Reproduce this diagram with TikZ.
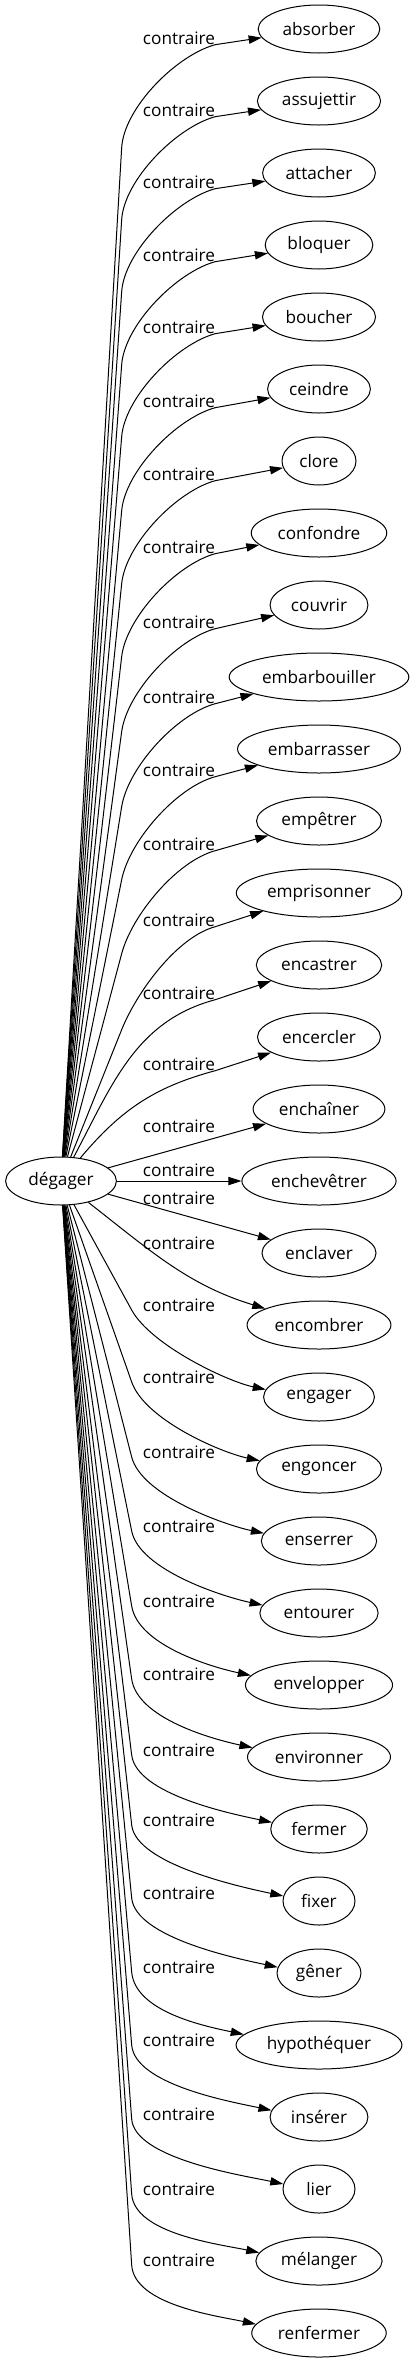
\documentclass[tikz,border=0pt]{standalone}
\usepackage{fontspec}
\setmainfont{Open Sans}
\usetikzlibrary{shapes.geometric,arrows.meta,calc}

\tikzset{
  mot/.style={draw, ellipse, line width=0.75pt, inner xsep=4.9pt, inner ysep=0pt,
    minimum width=54pt, minimum height=36pt},
  rel/.style={inner sep=0pt},
  fleche/.style={line width=0.75pt, -{Triangle[length=9.75pt,width=6.2pt]}},
}

\begin{document}
\begin{tikzpicture}[x=0.75pt, y=0.75pt, font=\fontsize{12.9}{15}\selectfont]
    \useasboundingbox (0,0) rectangle (412,-2363);
    \node (deg) at (61,-1181) [mot] {dégager};
    % les contraires, un par ligne
    \foreach \i/\mot/\ly in {0/absorber/38, 1/assujettir/110, 2/attacher/182,
        3/bloquer/255, 4/boucher/327, 5/ceindre/401, 6/clore/474,
        7/confondre/547, 8/couvrir/622, 9/embarbouiller/697,
        10/embarrasser/770, 11/empêtrer/844, 12/emprisonner/920,
        13/encastrer/993, 14/encercler/1064, 15/enchaîner/1126,
        16/enchevêtrer/1170, 17/enclaver/1198, 18/encombrer/1243,
        19/engager/1305, 20/engoncer/1377, 21/enserrer/1452,
        22/entourer/1526, 23/envelopper/1601, 24/environner/1674,
        25/fermer/1750, 26/fixer/1820, 27/gêner/1893, 28/hypothéquer/1967,
        29/insérer/2040, 30/lier/2114, 31/mélanger/2189, 32/renfermer/2260} {
        \node (m\i) at (319,{-29-72*\i}) [mot] {\mot};
        \node (c\i) at (179,-\ly) [rel] {contraire};
    }
    % points de courbure
    \foreach \i in {0,...,12}
        \coordinate (b\i) at ($(c\i.south west)+(-21,-103)$);
    \foreach \i in {19,...,32}
        \coordinate (b\i) at ($(c\i.west)+(-11,-5)$);
    % au-dessus
    \foreach \i in {0,...,12}
        \draw[fleche] (deg) -- (b\i)
            .. controls ($(b\i)!-30pt!(deg)$) and ($(c\i.south east)+(195:30pt)$)
            .. (c\i.south east) -- (m\i);
    \draw[fleche] (deg) to[out=62,in=195] (c13.south east) -- (m13);
    \draw[fleche] (deg) to[out=50,in=195] (c14.south east) -- (m14);
    \draw[fleche] (deg) -- (m15);
    \draw[fleche] (deg) -- (m16);
    \draw[fleche] (deg) -- (m17);
    \draw[fleche] (deg) to[out=-38,in=163] (m18);
    % en dessous
    \foreach \i in {19,...,32}
        \draw[fleche] (deg) -- (b\i)
            .. controls ($(b\i)!-30pt!(deg)$) and ($(m\i.172)+(168:30pt)$)
            .. (m\i.172);
\end{tikzpicture}
\end{document}
